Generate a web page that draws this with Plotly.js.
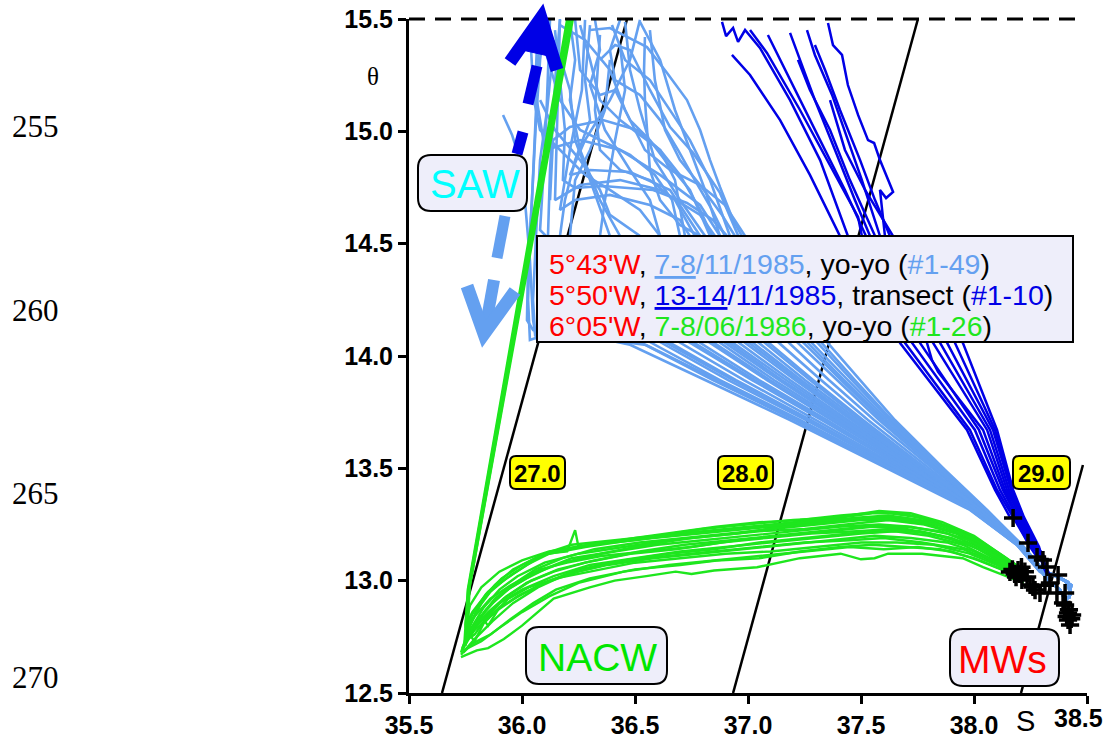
<!DOCTYPE html>
<html><head><meta charset="utf-8">
<script src="https://cdn.plot.ly/plotly-3.0.1.min.js"></script>
<style>html,body{margin:0;padding:0;background:#fff}</style>
</head><body><div id="chart" style="width:1107px;height:738px"></div>
<script>
// ---------- axis ticks ----------
const xTicks = [35.5, 36.0, 36.5, 37.0, 37.5, 38.0, 38.5];
const xTickText = ['35.5', '36.0', '36.5', '37.0', '37.5', '38.0', ''];
const lastXTick = '38.5';
const yTicks = [12.5, 13.0, 13.5, 14.0, 14.5, 15.0, 15.5];
const pageLines = ['255', '260', '265', '270'];

// ---------- isopycnals ----------
const sig27S = [35.646, 36.465], sig27T = [12.5, 15.5];
const sig28S = [36.934, 37.752], sig28T = [12.5, 15.5];
const sig29S = [38.208, 38.482], sig29T = [12.5, 13.515];
const sigLabels = ['27.0', '28.0', '29.0'];

// ---------- 5°43'W yo-yo 7-8/11/1985 (light blue) ----------
const yoyo85S = [
 [36.102,36.080,36.062,36.049,36.035,36.027,36.035,36.168,36.478,36.810,37.186,37.628,37.982,38.190,38.292,38.358,38.416,38.425,38.389],
 [36.124,36.115,36.102,36.088,36.080,36.566,36.876,37.230,37.650,37.991,38.195,38.296,38.34,38.40,38.43],
 [36.168,36.150,36.137,36.124,36.115,36.739,37.018,37.327,37.704,38.004,38.199,38.301,38.37,38.43,38.42],
 [35.916,35.956,35.991,36.013,36.035,36.049,36.062,36.827,37.084,37.372,37.726,38.013,38.199,38.301,38.33,38.38,38.41],
 [36.301,36.389,36.491,36.553,36.642,36.730,36.788,36.832,36.876,36.934,36.973,37.350,37.496,37.650,37.872,38.058,38.212,38.314,38.358,38.416,38.425,38.389],
 [36.544,36.540,36.544,36.553,36.566,36.611,36.699,36.788,37.261,37.425,37.602,37.845,38.049,38.208,38.310,38.37,38.43,38.42],
 [36.345,36.412,36.478,36.566,36.655,36.757,36.876,36.951,37.177,37.358,37.558,37.823,38.040,38.208,38.310,38.34,38.40,38.43],
 [36.146,36.168,36.190,36.181,36.235,36.358,36.580,36.730,36.845,36.907,37.088,37.288,37.509,37.796,38.035,38.204,38.305,38.33,38.38,38.41],
 [36.257,36.301,36.345,36.434,36.522,36.611,36.699,36.788,36.841,37.000,37.221,37.465,37.774,38.027,38.204,38.305,38.358,38.416,38.425,38.389],
 [36.345,36.336,36.323,36.345,36.434,36.566,36.677,36.765,36.912,37.150,37.416,37.748,38.018,38.199,38.301,38.37,38.43,38.42],
 [36.124,36.137,36.212,36.358,36.509,36.611,36.677,36.721,36.956,37.186,37.442,37.761,38.022,38.204,38.305,38.34,38.40,38.43],
 [36.212,36.235,36.212,36.257,36.345,36.434,36.783,37.049,37.350,37.712,38.009,38.199,38.301,38.33,38.38,38.41],
 [36.389,36.367,36.301,36.235,36.212,36.650,36.947,37.279,37.677,38.000,38.195,38.296,38.358,38.416,38.425,38.389],
 [36.080,36.146,36.257,36.345,36.389,36.522,36.872,37.115,37.394,37.739,38.018,38.199,38.301,38.37,38.43,38.42],
 [36.434,36.456,36.412,36.367,36.345,36.695,36.982,37.301,37.690,38.000,38.195,38.301,38.34,38.40,38.43],
 [36.301,36.279,36.301,36.235,36.190,36.168,36.611,36.912,37.257,37.664,37.996,38.195,38.296,38.33,38.38,38.41],
 [36.456,36.478,36.522,36.588,36.699,36.810,37.044,37.252,37.487,37.783,38.031,38.204,38.305,38.358,38.416,38.425,38.389],
 [36.071,36.058,36.102,36.257,36.434,36.611,36.788,36.876,37.133,37.323,37.531,37.810,38.035,38.208,38.310,38.37,38.43,38.42],
 [36.522,36.611,36.677,36.743,36.810,36.876,37.217,37.394,37.580,37.836,38.044,38.208,38.310,38.34,38.40,38.43],
 [36.398,36.456,36.566,36.655,36.743,36.832,36.920,37.305,37.460,37.628,37.858,38.053,38.212,38.314,38.33,38.38,38.41],
 [36.115,36.133,36.111,36.080,36.062,36.049,36.058,36.522,36.845,37.208,37.642,37.987,38.190,38.292,38.34,38.40,38.43],
 [36.168,36.279,36.389,36.456,36.544,36.655,36.788,36.898,36.987,37.323,37.473,37.637,37.863,38.053,38.212,38.314,38.37,38.43,38.42],
 [36.235,36.257,36.345,36.412,36.478,36.566,36.633,36.743,36.832,36.982,37.208,37.456,37.770,38.027,38.204,38.305,38.358,38.416,38.425,38.389],
 [36.035,36.053,36.080,36.168,36.279,36.389,36.522,36.611,36.845,37.097,37.381,37.730,38.013,38.199,38.301,38.33,38.38,38.41],
 [36.434,36.389,36.412,36.522,36.611,36.690,36.765,36.841,36.898,37.243,37.412,37.593,37.841,38.049,38.208,38.310,38.358,38.416,38.425,38.389],
 [36.102,36.168,36.257,36.345,36.478,36.588,36.664,36.699,36.929,37.168,37.429,37.752,38.018,38.199,38.301,38.34,38.40,38.43],
 [36.323,36.345,36.301,36.367,36.478,36.566,36.611,36.757,37.031,37.336,37.708,38.009,38.199,38.301,38.37,38.43,38.42],
 [36.146,36.212,36.235,36.301,36.389,36.633,36.934,37.270,37.673,38.000,38.195,38.296,38.33,38.38,38.41],
 [36.566,36.588,36.633,36.699,36.788,36.885,36.942,37.279,37.442,37.615,37.854,38.049,38.208,38.310,38.34,38.40,38.43],
 [36.080,36.071,36.058,36.044,36.027,36.022,36.049,36.549,36.863,37.221,37.646,37.987,38.190,38.292,38.358,38.416,38.425,38.389],
 [36.168,36.159,36.146,36.257,36.434,36.611,36.788,36.854,37.018,37.235,37.473,37.779,38.027,38.204,38.305,38.34,38.40,38.43],
 [36.279,36.265,36.212,36.168,36.235,36.389,36.566,36.699,36.743,36.894,37.137,37.407,37.743,38.013,38.199,38.301,38.33,38.38,38.41],
 [36.522,36.478,36.389,36.279,36.212,36.301,36.478,36.655,36.788,37.071,37.274,37.500,37.792,38.031,38.204,38.305,38.37,38.43,38.42]
];
const yoyo85T = [
 [15.496,15.318,15.050,14.783,14.516,14.249,14.071,14.116,14.050,13.893,13.715,13.493,13.315,13.159,13.039,13.025,12.994,12.936,12.892],
 [15.500,15.228,14.917,14.694,14.561,14.062,13.893,13.715,13.493,13.315,13.159,13.039,13.03,13.00,12.97],
 [15.500,15.273,15.050,14.828,14.534,14.062,13.893,13.715,13.493,13.315,13.159,13.039,13.02,12.98,12.92],
 [15.073,14.984,14.872,14.694,14.427,14.160,14.080,14.062,13.893,13.715,13.493,13.315,13.159,13.039,13.00,12.96,12.90],
 [15.451,15.460,15.407,15.375,15.260,15.139,15.006,14.872,14.752,14.605,14.534,14.062,13.893,13.715,13.493,13.315,13.159,13.039,13.025,12.994,12.936,12.892],
 [15.420,15.273,15.139,15.006,14.828,14.694,14.583,14.534,14.062,13.893,13.715,13.493,13.315,13.159,13.039,13.02,12.98,12.92],
 [15.318,15.384,15.362,15.184,15.019,14.904,14.726,14.548,14.062,13.893,13.715,13.493,13.315,13.159,13.039,13.03,13.00,12.97],
 [15.451,15.228,15.006,14.783,14.748,14.757,14.739,14.681,14.605,14.534,14.062,13.893,13.715,13.493,13.315,13.159,13.039,13.00,12.96,12.90],
 [15.473,15.318,15.139,15.050,14.984,14.917,14.806,14.650,14.534,14.062,13.893,13.715,13.493,13.315,13.159,13.039,13.025,12.994,12.936,12.892],
 [15.429,15.273,15.095,14.917,14.828,14.783,14.694,14.534,14.062,13.893,13.715,13.493,13.315,13.159,13.039,13.02,12.98,12.92],
 [14.694,14.961,15.019,15.050,15.006,14.917,14.783,14.534,14.062,13.893,13.715,13.493,13.315,13.159,13.039,13.03,13.00,12.97],
 [15.496,15.318,15.139,14.917,14.694,14.534,14.062,13.893,13.715,13.493,13.315,13.159,13.039,13.00,12.96,12.90],
 [15.318,15.095,14.917,14.783,14.534,14.062,13.893,13.715,13.493,13.315,13.159,13.039,13.025,12.994,12.936,12.892],
 [15.139,15.006,14.872,14.739,14.628,14.534,14.062,13.893,13.715,13.493,13.315,13.159,13.039,13.02,12.98,12.92],
 [15.384,15.184,14.961,14.694,14.534,14.062,13.893,13.715,13.493,13.315,13.159,13.039,13.03,13.00,12.97],
 [15.473,15.228,15.050,14.872,14.694,14.534,14.062,13.893,13.715,13.493,13.315,13.159,13.039,13.00,12.96,12.90],
 [15.487,15.273,15.095,14.872,14.694,14.534,14.062,13.893,13.715,13.493,13.315,13.159,13.039,13.025,12.994,12.936,12.892],
 [15.496,15.184,14.917,14.961,14.917,14.806,14.672,14.534,14.062,13.893,13.715,13.493,13.315,13.159,13.039,13.02,12.98,12.92],
 [15.487,15.318,15.095,14.917,14.739,14.534,14.062,13.893,13.715,13.493,13.315,13.159,13.039,13.03,13.00,12.97],
 [15.473,15.318,15.228,15.095,14.961,14.783,14.534,14.062,13.893,13.715,13.493,13.315,13.159,13.039,13.00,12.96,12.90],
 [15.496,15.318,15.095,14.872,14.534,14.249,14.093,14.062,13.893,13.715,13.493,13.315,13.159,13.039,13.03,13.00,12.97],
 [15.473,15.407,15.273,15.095,14.917,14.828,14.761,14.672,14.534,14.062,13.893,13.715,13.493,13.315,13.159,13.039,13.02,12.98,12.92],
 [15.496,15.273,15.162,15.184,15.050,14.961,14.872,14.739,14.534,14.062,13.893,13.715,13.493,13.315,13.159,13.039,13.025,12.994,12.936,12.892],
 [15.451,15.139,15.006,14.917,14.806,14.739,14.650,14.534,14.062,13.893,13.715,13.493,13.315,13.159,13.039,13.00,12.96,12.90],
 [15.496,15.362,15.228,15.162,15.050,14.917,14.783,14.650,14.534,14.062,13.893,13.715,13.493,13.315,13.159,13.039,13.025,12.994,12.936,12.892],
 [15.362,15.139,15.006,14.961,14.895,14.806,14.694,14.534,14.062,13.893,13.715,13.493,13.315,13.159,13.039,13.03,13.00,12.97],
 [15.496,15.362,15.206,15.006,14.828,14.694,14.534,14.062,13.893,13.715,13.493,13.315,13.159,13.039,13.02,12.98,12.92],
 [15.407,15.184,14.961,14.783,14.534,14.062,13.893,13.715,13.493,13.315,13.159,13.039,13.00,12.96,12.90],
 [15.451,15.228,15.006,14.872,14.761,14.628,14.534,14.062,13.893,13.715,13.493,13.315,13.159,13.039,13.03,13.00,12.97],
 [15.496,15.273,15.006,14.694,14.427,14.160,14.116,14.049,13.893,13.715,13.493,13.315,13.159,13.039,13.025,12.994,12.936,12.892],
 [15.496,15.139,14.694,14.761,14.783,14.739,14.628,14.534,14.062,13.893,13.715,13.493,13.315,13.159,13.039,13.03,13.00,12.97],
 [15.496,15.184,14.917,14.650,14.694,14.717,14.672,14.605,14.534,14.062,13.893,13.715,13.493,13.315,13.159,13.039,13.00,12.96,12.90],
 [15.496,15.318,15.139,14.961,14.806,14.828,14.819,14.739,14.534,14.062,13.893,13.715,13.493,13.315,13.159,13.039,13.02,12.98,12.92]
];

// ---------- 5°50'W transect 13-14/11/1985 (dark blue) ----------
const transS = [
 [36.885,36.903,36.934,36.956,36.987,37.053,37.186,37.319,37.442,37.673,37.969,38.093,38.159,38.173],
 [36.929,37.009,37.142,37.274,37.407,37.695,37.982,38.102,38.173,38.239],
 [37.009,37.084,37.230,37.376,37.487,37.504,37.726,38.004,38.115,38.181,38.248,38.279],
 [37.088,37.186,37.319,37.429,37.522,37.761,38.022,38.128,38.190,38.257,38.305],
 [37.186,37.230,37.296,37.385,37.473,37.540,37.792,37.814,37.841,38.040,38.137,38.195,38.265,38.323],
 [37.221,37.274,37.363,37.451,37.562,37.819,38.058,38.146,38.204,38.270,38.314,38.336],
 [37.261,37.296,37.372,37.442,37.504,37.584,37.850,38.071,38.155,38.208,38.274,38.323],
 [37.354,37.376,37.416,37.442,37.487,37.531,37.558,37.584,37.642,37.611,37.584,37.606,37.881,38.084,38.164,38.212,38.279,38.327],
 [37.296,37.341,37.407,37.496,37.562,37.628,37.916,38.093,38.168,38.217,38.283,38.319],
 [37.363,37.429,37.518,37.642,37.951,38.102,38.173,38.221,38.288,38.314]
];
const transT = [
 [15.487,15.424,15.460,15.398,15.451,15.371,15.139,14.872,14.534,14.058,13.671,13.404,13.283,13.279],
 [15.340,15.251,15.050,14.806,14.534,14.058,13.671,13.404,13.283,13.168],
 [15.451,15.349,15.095,14.828,14.619,14.534,14.058,13.671,13.404,13.283,13.150,13.105],
 [15.429,15.228,14.961,14.739,14.534,14.058,13.671,13.404,13.283,13.150,13.092],
 [15.438,15.318,15.139,14.917,14.694,14.534,14.058,13.982,13.929,13.671,13.404,13.283,13.150,13.061],
 [15.318,15.184,15.006,14.783,14.534,14.058,13.671,13.404,13.283,13.150,13.070,13.025],
 [15.451,15.340,15.162,14.961,14.783,14.534,14.058,13.671,13.404,13.283,13.150,13.025],
 [15.482,15.384,15.340,15.206,15.073,14.961,14.948,14.872,14.730,14.703,14.739,14.534,14.058,13.671,13.404,13.283,13.150,13.039],
 [15.384,15.273,15.095,14.872,14.694,14.534,14.058,13.671,13.404,13.283,13.150,13.092],
 [15.139,14.917,14.739,14.534,14.058,13.671,13.404,13.283,13.150,13.047]
];

// ---------- 6°05'W yo-yo 7-8/06/1986 (green) ----------
const yoyo86S = [
 [36.225,35.77,35.75,35.78,35.85,35.96,36.10,36.20,36.235,36.25,36.5,36.86,37.05,37.23,37.41,37.59,37.70,37.77,37.95,38.04,38.13,38.20],
 [35.73,35.80,35.85,35.92,36.00,36.14,36.30,36.41,36.55,36.68,36.75,36.85,37.04,37.23,37.41,37.50,37.56,37.62,37.77,37.95,38.04,38.22],
 [35.74,35.78,35.86,35.95,36.05,36.15,36.30,36.50,36.70,36.86,37.05,37.23,37.41,37.55,37.70,37.85,38.00,38.10,38.20],
 [36.20,35.76,35.745,35.79,35.88,35.98,36.10,36.25,36.45,36.65,36.86,37.05,37.25,37.45,37.60,37.77,37.95,38.05,38.15,38.21],
 [35.74,35.80,35.90,36.00,36.14,36.30,36.50,36.70,36.90,37.10,37.30,37.50,37.65,37.80,37.95,38.05,38.15,38.22],
 [36.21,35.765,35.755,35.78,35.86,35.95,36.08,36.20,36.35,36.55,36.75,36.95,37.15,37.35,37.55,37.70,37.85,38.00,38.10,38.20],
 [35.75,35.79,35.84,35.92,36.02,36.12,36.22,36.40,36.60,36.80,37.00,37.20,37.40,37.58,37.72,37.88,38.00,38.12,38.19],
 [35.735,35.77,35.83,35.90,35.98,36.10,36.25,36.45,36.65,36.85,37.05,37.25,37.45,37.62,37.78,37.92,38.03,38.14,38.22],
 [35.76,35.81,35.88,35.97,36.06,36.18,36.32,36.52,36.72,36.92,37.12,37.32,37.50,37.66,37.80,37.93,38.05,38.15,38.21],
 [36.218,35.768,35.76,35.80,35.86,35.93,36.02,36.12,36.28,36.48,36.68,36.90,37.10,37.30,37.48,37.62,37.76,37.90,38.02,38.12,38.20],
 [35.75,35.78,35.84,35.91,36.00,36.10,36.22,36.40,36.60,36.80,37.00,37.20,37.40,37.55,37.68,37.80,37.94,38.05,38.14,38.21],
 [35.73,35.79,35.87,35.96,36.07,36.20,36.38,36.58,36.78,36.98,37.18,37.38,37.56,37.72,37.88,38.00,38.10,38.18,38.22],
 [35.74,35.82,35.85,35.90,36.00,36.10,36.25,36.45,36.65,36.85,37.05,37.25,37.45,37.62,37.76,37.90,38.02,38.12,38.20],
 [35.74,35.82,35.90,36.00,36.12,36.25,36.45,36.65,36.85,37.05,37.25,37.45,37.60,37.75,37.90,38.02,38.12,38.21],
 [35.735,35.76,35.80,35.87,35.95,36.05,36.18,36.35,36.55,36.75,36.95,37.15,37.35,37.52,37.68,37.82,37.95,38.06,38.16,38.22],
 [35.745,35.79,35.84,35.92,36.02,36.14,36.28,36.48,36.68,36.88,37.08,37.28,37.48,37.64,37.80,37.96,38.08,38.17,38.22],
 [35.73,35.76,35.79,35.83,35.88,35.94,36.03,36.15,36.30,36.50,36.70,36.90,37.10,37.30,37.50,37.66,37.82,37.98,38.10,38.20],
 [36.205,35.762,35.75,35.77,35.82,35.90,36.00,36.12,36.30,36.50,36.70,36.90,37.10,37.30,37.45,37.58,37.72,37.86,38.00,38.10,38.20],
 [35.74,35.78,35.85,35.93,36.04,36.16,36.32,36.52,36.72,36.92,37.12,37.32,37.52,37.70,37.85,37.98,38.08,38.16,38.22],
 [35.75,35.77,35.82,35.88,35.96,36.06,36.18,36.36,36.56,36.76,36.96,37.16,37.36,37.54,37.70,37.84,37.97,38.08,38.17,38.22]
];
const yoyo86T = [
 [15.50,12.98,12.80,12.86,12.95,13.03,13.12,13.13,13.225,13.15,13.19,13.24,13.26,13.27,13.29,13.305,13.29,13.28,13.22,13.17,13.11,13.06],
 [12.66,12.69,12.70,12.74,12.80,12.92,12.97,13.00,13.02,13.04,13.03,13.045,13.06,13.10,13.12,13.095,13.10,13.12,13.12,13.10,13.06,12.99],
 [12.68,12.72,12.76,12.83,12.90,12.96,13.01,13.05,13.07,13.09,13.10,13.13,13.15,13.16,13.15,13.14,13.10,13.06,13.02],
 [15.50,12.96,12.72,12.78,12.86,12.93,12.99,13.05,13.09,13.11,13.13,13.15,13.17,13.18,13.19,13.17,13.14,13.10,13.05,13.02],
 [12.70,12.80,12.90,12.96,13.02,13.07,13.10,13.13,13.15,13.17,13.19,13.21,13.22,13.20,13.16,13.11,13.06,13.03],
 [15.50,12.97,12.75,12.83,12.92,12.98,13.05,13.08,13.11,13.13,13.15,13.18,13.20,13.22,13.24,13.23,13.20,13.15,13.10,13.04],
 [12.72,12.80,12.87,12.95,13.01,13.06,13.10,13.13,13.16,13.18,13.20,13.22,13.24,13.25,13.24,13.21,13.16,13.10,13.05],
 [12.69,12.78,12.88,12.96,13.02,13.08,13.12,13.15,13.18,13.20,13.22,13.23,13.25,13.27,13.25,13.21,13.15,13.09,13.04],
 [12.74,12.83,12.92,12.99,13.05,13.10,13.14,13.17,13.19,13.21,13.23,13.25,13.27,13.27,13.25,13.21,13.15,13.09,13.05],
 [15.50,12.97,12.78,12.87,12.95,13.01,13.07,13.12,13.15,13.18,13.20,13.22,13.24,13.26,13.28,13.29,13.27,13.23,13.17,13.11,13.06],
 [12.76,12.85,12.94,13.01,13.07,13.12,13.16,13.18,13.20,13.23,13.25,13.27,13.28,13.30,13.30,13.27,13.22,13.16,13.10,13.05],
 [12.67,12.74,12.82,12.90,12.97,13.03,13.07,13.10,13.12,13.14,13.16,13.18,13.20,13.19,13.17,13.13,13.08,13.04,13.01],
 [12.71,12.84,12.80,12.88,12.94,12.99,13.04,13.09,13.12,13.14,13.17,13.19,13.21,13.22,13.22,13.19,13.14,13.08,13.03],
 [12.69,12.73,12.79,12.86,12.93,12.99,13.04,13.07,13.09,13.11,13.13,13.15,13.14,13.15,13.13,13.09,13.05,13.00],
 [12.70,12.74,12.82,12.90,12.97,13.03,13.08,13.12,13.16,13.19,13.21,13.24,13.26,13.28,13.28,13.26,13.21,13.14,13.08,13.04],
 [12.73,12.76,12.83,12.92,12.99,13.04,13.08,13.12,13.14,13.17,13.19,13.21,13.22,13.23,13.21,13.17,13.11,13.06,13.03],
 [12.68,12.77,12.73,12.81,12.86,12.92,12.97,13.01,13.04,13.08,13.10,13.12,13.13,13.15,13.17,13.17,13.16,13.12,13.07,13.02],
 [15.50,12.96,12.79,12.89,12.97,13.04,13.09,13.13,13.16,13.18,13.21,13.23,13.25,13.27,13.29,13.31,13.30,13.26,13.20,13.13,13.06],
 [12.70,12.79,12.86,12.93,13.00,13.05,13.09,13.13,13.16,13.18,13.20,13.22,13.24,13.24,13.22,13.18,13.12,13.07,13.03],
 [12.71,12.80,12.90,12.98,13.05,13.10,13.14,13.17,13.19,13.21,13.23,13.25,13.27,13.28,13.27,13.25,13.20,13.14,13.08,13.04]
];

// ---------- deepest points (black crosses) ----------
const bottomS = [38.173,38.239,38.279,38.305,38.323,38.372,38.195,38.235,38.261,38.292,38.336,38.367,38.403,38.394,38.416,38.416,38.159,38.212,38.248,38.186,38.270,38.314,38.403,38.425,38.434,38.17,38.20,38.225,38.18,38.21,38.42,38.43,38.41];
const bottomT = [13.279,13.168,13.105,13.092,13.061,13.025,13.047,13.016,12.972,12.945,12.990,12.945,12.945,12.901,12.856,12.825,13.039,13.003,12.981,13.016,12.958,12.980,12.892,12.803,12.847,13.05,13.03,13.04,13.03,13.06,12.87,12.83,12.84];

// ---------- colours ----------
const C_LB = '#64a0f0', C_DB = '#0000e6', C_GR = '#1ee61e', C_RED = '#ff0000';

// ---------- traces ----------
const traces = [];
[[sig27S,sig27T],[sig28S,sig28T],[sig29S,sig29T]].forEach(p => traces.push({
  x: p[0], y: p[1], mode: 'lines', line: {color: '#000', width: 2.5}, hoverinfo: 'skip'}));
yoyo85S.forEach((s, i) => traces.push({x: s, y: yoyo85T[i], mode: 'lines',
  line: {color: C_LB, width: 2.6}, hoverinfo: 'skip'}));
transS.forEach((s, i) => traces.push({x: s, y: transT[i], mode: 'lines',
  line: {color: C_DB, width: 2.5}, hoverinfo: 'skip'}));
yoyo86S.forEach((s, i) => traces.push({x: s, y: yoyo86T[i], mode: 'lines',
  line: {color: C_GR, width: 2.4}, hoverinfo: 'skip'}));
traces.push({x: bottomS, y: bottomT, mode: 'markers', hoverinfo: 'skip',
  marker: {symbol: 'cross-thin', size: 13, line: {color: '#000', width: 3.5}}});

// ---------- layout helpers (pixel position -> paper fraction) ----------
const L = 409, R = 1087, T = 19, B = 693;
const PX = px => (px - L) / (R - L);
const PY = py => (B - py) / (B - T);
const pt = (x, y) => PX(x).toFixed(5) + ',' + PY(y).toFixed(5);
function rr(x0, y0, x1, y1, r) {
  return 'M' + pt(x0 + r, y0) + ' L' + pt(x1 - r, y0) + ' Q' + pt(x1, y0) + ' ' + pt(x1, y0 + r) +
    ' L' + pt(x1, y1 - r) + ' Q' + pt(x1, y1) + ' ' + pt(x1 - r, y1) +
    ' L' + pt(x0 + r, y1) + ' Q' + pt(x0, y1) + ' ' + pt(x0, y1 - r) +
    ' L' + pt(x0, y0 + r) + ' Q' + pt(x0, y0) + ' ' + pt(x0 + r, y0) + ' Z';
}
const poly = arr => 'M' + arr.map(p => pt(p[0], p[1])).join(' L');
const pshape = (path, color, w, fill) => ({type: 'path', xref: 'paper', yref: 'paper', layer: 'above',
  path: path, line: {color: color, width: w}, fillcolor: fill || 'rgba(0,0,0,0)'});

const BOX = '#eeeefa';
const shapes = [
  {type: 'line', xref: 'paper', yref: 'paper', layer: 'above', x0: 0, x1: PX(1076), y0: 1, y1: 1,
   line: {color: '#000', width: 3, dash: '16px,10px'}},
  // light-blue (downward) arrow
  pshape(poly([[505,216],[497,258]]), C_LB, 11),
  pshape(poly([[494,280],[485,330]]), C_LB, 12),
  pshape(poly([[467,286],[484,334],[515,291]]), C_LB, 13),
  // dark-blue (upward) arrow
  pshape(poly([[517,154],[523,132]]), C_DB, 11),
  pshape(poly([[528,104],[537,66]]), C_DB, 11),
  pshape(poly([[510,62],[541,18],[557,70]]), C_DB, 13),
  pshape(poly([[522,50],[541,18],[553,57]]) + ' Z', C_DB, 1, C_DB),
  // water mass boxes
  pshape(rr(418,155,527,211,13), '#000', 2, BOX),
  pshape(rr(526,627,667,684,13), '#000', 2, BOX),
  pshape(rr(950,629,1059,686,13), '#000', 2, BOX),
  // isopycnal label boxes
  pshape(rr(510,456,565,489,6), '#000', 2, '#ffff00'),
  pshape(rr(718,456,773,489,6), '#000', 2, '#ffff00'),
  pshape(rr(1013,456,1070,489,6), '#000', 2, '#ffff00'),
  // legend box
  {type: 'rect', xref: 'paper', yref: 'paper', layer: 'above', x0: PX(537), x1: PX(1073), y0: PY(342), y1: PY(236),
   line: {color: '#000', width: 2}, fillcolor: BOX}
];

const SANS = 'Liberation Sans, Arial, sans-serif';
const SERIF = 'Liberation Serif, Times New Roman, serif';
const ann = (x, y, text, font, xanchor) => ({xref: 'paper', yref: 'paper', x: PX(x), y: PY(y), text: text,
  showarrow: false, xanchor: xanchor || 'center', yanchor: 'middle', font: font});
const sp = (c, t) => '<span style="color:' + c + '">' + t + '</span>';

const legFont = {family: SANS, size: 28.5, color: '#000'};
const tickFont = {family: SANS, size: 25, color: '#000', weight: 'bold'};
const annotations = [
  ann(547, 264, sp(C_RED, "5°43'W") + ', ' + sp(C_LB, '<u>7-8</u>/11/1985') + ', yo-yo (' + sp(C_LB, '#1-49') + ')', legFont, 'left'),
  ann(547, 295, sp(C_RED, "5°50'W") + ', ' + sp(C_DB, '<u>13-14</u>/11/1985') + ', transect (' + sp(C_DB, '#1-10') + ')', legFont, 'left'),
  ann(547, 326, sp(C_RED, "6°05'W") + ', ' + sp(C_GR, '7-8/06/1986') + ', yo-yo (' + sp(C_GR, '#1-26') + ')', legFont, 'left'),
  ann(475, 184, 'SAW', {family: SANS, size: 40, color: '#00ffff'}),
  ann(597, 657, 'NACW', {family: SANS, size: 39, color: '#00e600'}),
  ann(1002, 659, 'MWs', {family: SANS, size: 39, color: C_RED}),
  ann(537.5, 473, sigLabels[0], {family: SANS, size: 24, color: '#000', weight: 'bold'}),
  ann(745.5, 473, sigLabels[1], {family: SANS, size: 24, color: '#000', weight: 'bold'}),
  ann(1041.5, 473, sigLabels[2], {family: SANS, size: 24, color: '#000', weight: 'bold'}),
  ann(373, 77, 'θ', {family: SERIF, size: 25, color: '#000'}),
  ann(1025, 721, 'S', {family: SANS, size: 29, color: '#000'}),
  ann(1105, 718, lastXTick, tickFont, 'right'),
  ann(10, 127, pageLines[0], {family: SERIF, size: 31, color: '#000'}, 'left'),
  ann(10, 310, pageLines[1], {family: SERIF, size: 31, color: '#000'}, 'left'),
  ann(10, 493, pageLines[2], {family: SERIF, size: 31, color: '#000'}, 'left'),
  ann(10, 677, pageLines[3], {family: SERIF, size: 31, color: '#000'}, 'left')
];

const axisCommon = {showgrid: false, zeroline: false, showline: true, linecolor: '#000', linewidth: 3,
  ticks: 'outside', ticklen: 8, tickwidth: 3, tickcolor: '#000', tickformat: '.1f',
  tickfont: tickFont, fixedrange: true};

const layout = {
  width: 1107, height: 738, margin: {l: L, r: 1107 - R, t: T, b: 738 - B, pad: 0},
  paper_bgcolor: '#fff', plot_bgcolor: '#fff', showlegend: false,
  xaxis: Object.assign({}, axisCommon, {range: [35.5, 38.5], tickvals: xTicks, ticktext: xTickText}),
  yaxis: Object.assign({}, axisCommon, {range: [12.5, 15.5], tickvals: yTicks}),
  shapes: shapes, annotations: annotations
};

Plotly.newPlot('chart', traces, layout, {displayModeBar: false, staticPlot: true});
</script></body></html>
